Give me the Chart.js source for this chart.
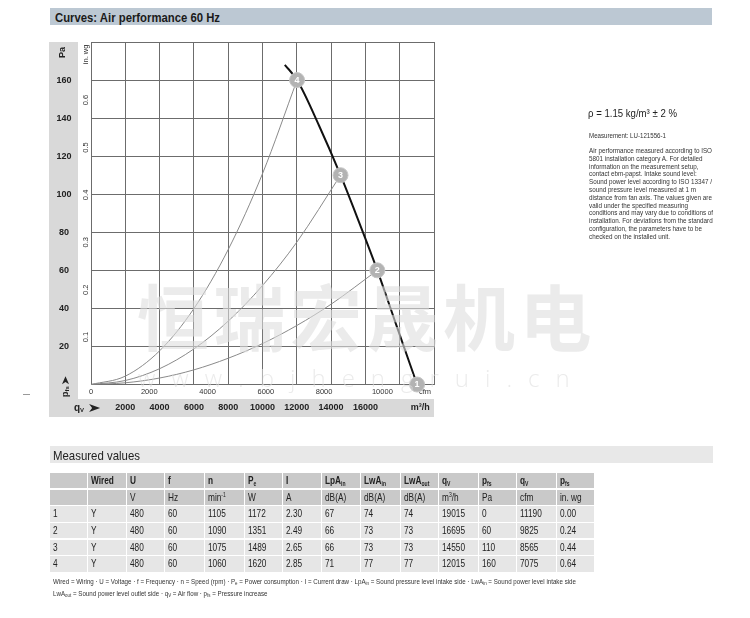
<!DOCTYPE html>
<html><head><meta charset="utf-8">
<script src="https://cdn.jsdelivr.net/npm/chart.js@4.4.1/dist/chart.umd.min.js"></script>
<style>
html,body{margin:0;padding:0;background:#fff;}
body{width:750px;height:618px;position:relative;overflow:hidden;font-family:"Liberation Sans",Arial,sans-serif;color:#222;}
.abs{position:absolute;white-space:nowrap;}
.fit{display:inline-block;white-space:nowrap;transform-origin:0 50%;}
#hdr{left:50px;top:8px;width:662px;height:17px;background:#bcc8d3;}
#hdr span{font-weight:bold;font-size:13px;line-height:17px;margin-left:5px;color:#1a1a1a;}
#mv{left:50px;top:446px;width:663px;height:17px;background:#e8e8e8;}
#mv span{font-size:13px;line-height:17px;margin-left:3px;color:#222;}
.cell{position:absolute;height:15.3px;line-height:15.3px;font-size:11.5px;white-space:nowrap;box-sizing:border-box;padding-left:3px;color:#222;}
.cell span{display:inline-block;transform:scaleX(0.72);transform-origin:0 50%;}
.cell sub{font-size:7px;vertical-align:-2px;line-height:0;}
.cell sup{font-size:7px;vertical-align:4px;line-height:0;}
.fn sub{font-size:5px;vertical-align:-1px;line-height:0;}
#rho{left:588px;top:107px;font-size:11px;line-height:13px;color:#222;}
#meas{left:589px;top:130.5px;font-size:7.5px;line-height:9px;color:#333;}
#para{left:589px;top:147.1px;font-size:7.2px;line-height:7.8px;color:#333;}
#para div{white-space:nowrap;transform-origin:0 50%;}
.fn{left:53px;font-size:7px;line-height:11.6px;color:#333;}
#wm{left:137px;top:278px;font-family:"Noto Sans CJK SC",sans-serif;font-weight:700;font-size:72px;line-height:1;letter-spacing:4.5px;color:rgba(222,222,222,0.6);pointer-events:none;z-index:5;}
#wm2{left:138px;top:363px;font-family:"Open Sans",sans-serif;font-weight:300;font-size:24px;line-height:30px;letter-spacing:16px;color:rgba(222,222,222,0.6);pointer-events:none;z-index:5;}
#dash{left:23px;top:394px;width:7px;height:1px;background:#999;}
</style>
</head>
<body>
<div id="hdr" class="abs"><span class="fit" data-w="165">Curves: Air performance 60 Hz</span></div>
<canvas id="c" width="750" height="430" style="position:absolute;left:0;top:0;width:750px;height:430px;"></canvas>
<div id="wm" class="abs">恒瑞宏晟机电</div>
<div id="wm2" class="abs">www.bjhengrui.cn</div>
<div id="dash" class="abs"></div>
<div id="rho" class="abs"><span class="fit" data-w="89">ρ = 1.15 kg/m³ ± 2 %</span></div>
<div id="meas" class="abs"><span class="fit" data-w="77">Measurement: LU-121556-1</span></div>
<div id="para" class="abs"></div>
<div id="mv" class="abs"><span class="fit" data-w="87">Measured values</span></div>
<div id="table"></div>
<div id="fn1" class="abs fn" style="top:575.9px;"><span class="fit" id="fnl1">Wired = Wiring · U = Voltage · f = Frequency · n = Speed (rpm) · P<sub>e</sub> = Power consumption · I = Current draw · LpA<sub>in</sub> = Sound pressure level intake side · LwA<sub>in</sub> = Sound power level intake side</span></div>
<div id="fn2" class="abs fn" style="top:587.5px;"><span class="fit" id="fnl2">LwA<sub>out</sub> = Sound power level outlet side · q<sub>V</sub> = Air flow · p<sub>fs</sub> = Pressure increase</span></div>
<script>
// ---------------- data ----------------
const opIds      = [1, 2, 3, 4];
const opFlowM3h  = [19015, 16695, 14550, 12015];
const opPressPa  = [0, 60, 110, 160];

const fanCurveFlow = [11300, 12015, 13300, 14550, 15600, 16695, 17850, 19015];
const fanCurvePa   = [168, 160, 136, 110, 86, 60, 30, 0];

const sys2Flow = [0, 2000, 4000, 6000, 8000, 10000, 12000, 14000, 16695];
const sys2Pa   = [0, 0.9, 3.4, 7.7, 13.8, 21.5, 31, 42.2, 60];
const sys3Flow = [0, 2000, 4000, 6000, 8000, 10000, 12000, 14550];
const sys3Pa   = [0, 2.1, 8.3, 18.7, 33.3, 52, 74.8, 110];
const sys4Flow = [0, 2000, 4000, 6000, 8000, 10000, 12015];
const sys4Pa   = [0, 4.4, 17.7, 39.9, 70.9, 110.8, 160];

const paTicks       = [0, 20, 40, 60, 80, 100, 120, 140, 160, 180];
const paTickLabels  = ['', '20', '40', '60', '80', '100', '120', '140', '160', ''];
const inwgTicks      = [0.1, 0.2, 0.3, 0.4, 0.5, 0.6];
const inwgTickLabels = ['0.1', '0.2', '0.3', '0.4', '0.5', '0.6'];
const m3hTicks      = [0, 2000, 4000, 6000, 8000, 10000, 12000, 14000, 16000, 18000, 19200, 20000];
const m3hTickLabels = ['', '2000', '4000', '6000', '8000', '10000', '12000', '14000', '16000', '', 'm³/h', ''];
const cfmTicks      = [0, 2000, 4000, 6000, 8000, 10000, 11460];
const cfmTickLabels = ['0', '2000', '4000', '6000', '8000', '10000', 'cfm'];

const wired    = ['Y', 'Y', 'Y', 'Y'];
const voltage  = [480, 480, 480, 480];
const freq     = [60, 60, 60, 60];
const speed    = [1105, 1090, 1075, 1060];
const power    = [1172, 1351, 1489, 1620];
const current  = ['2.30', '2.49', '2.65', '2.85'];
const lpaIn    = [67, 66, 66, 71];
const lwaIn    = [74, 73, 73, 77];
const lwaOut   = [74, 73, 73, 77];
const qvCfm    = [11190, 9825, 8565, 7075];
const pfsInwg  = ['0.00', '0.24', '0.44', '0.64'];
const head1 = ['', 'Wired', 'U', 'f', 'n', 'P<sub>e</sub>', 'I', 'LpA<sub>in</sub>', 'LwA<sub>in</sub>', 'LwA<sub>out</sub>', 'q<sub>V</sub>', 'p<sub>fs</sub>', 'q<sub>V</sub>', 'p<sub>fs</sub>'];
const head2 = ['', '', 'V', 'Hz', 'min<sup>-1</sup>', 'W', 'A', 'dB(A)', 'dB(A)', 'dB(A)', 'm<sup>3</sup>/h', 'Pa', 'cfm', 'in. wg'];

const noteLines = [
  'Air performance measured according to ISO',
  '5801 installation category A. For detailed',
  'information on the measurement setup,',
  'contact ebm-papst. Intake sound level:',
  'Sound power level according to ISO 13347 /',
  'sound pressure level measured at 1 m',
  'distance from fan axis. The values given are',
  'valid under the specified measuring',
  'conditions and may vary due to conditions of',
  'installation. For deviations from the standard',
  'configuration, the parameters have to be',
  'checked on the installed unit.'
];

const PA_PER_INWG = 249.089;
const M3H_PER_CFM = 1.699;

// ---------------- text fitting ----------------
function fit(el, target) {
  el.style.transform = 'none';
  const w = el.getBoundingClientRect().width;
  if (w > 0) el.style.transform = 'scaleX(' + (target / w) + ')';
  return target / w;
}
document.querySelectorAll('.fit[data-w]').forEach(el => fit(el, +el.dataset.w));

const para = document.getElementById('para');
noteLines.forEach(t => { const d = document.createElement('div'); d.textContent = t; d.style.display = 'block'; para.appendChild(d); });
{
  const first = para.firstChild;
  const sp = document.createElement('span'); sp.textContent = noteLines[0]; sp.style.display = 'inline-block';
  first.textContent = ''; first.appendChild(sp);
  const s = 123 / sp.getBoundingClientRect().width;
  first.textContent = noteLines[0];
  para.querySelectorAll('div').forEach(d => d.style.transform = 'scaleX(' + s + ')');
}
{
  const s = fit(document.getElementById('fnl1'), 523);
  document.getElementById('fnl2').style.transform = 'scaleX(' + s + ')';
}

// ---------------- table ----------------
const colLefts = [50, 88, 127, 165, 205, 245, 283, 322, 361, 401, 439, 479, 517, 557, 595];
const rowTops = [473, 489.7, 506.3, 523, 539.7, 556.3];
const rows = [head1, head2];
for (let i = 0; i < opIds.length; i++) {
  rows.push([String(opIds[i]), wired[i], voltage[i], freq[i], speed[i], power[i], current[i], lpaIn[i], lwaIn[i], lwaOut[i], opFlowM3h[i], opPressPa[i], qvCfm[i], pfsInwg[i]]);
}
const tbl = document.getElementById('table');
rows.forEach((row, r) => {
  row.forEach((v, c) => {
    const d = document.createElement('div');
    d.className = 'cell';
    d.style.left = colLefts[c] + 'px';
    d.style.top = rowTops[r] + 'px';
    d.style.width = (colLefts[c + 1] - colLefts[c] - 1.5) + 'px';
    d.style.background = r < 2 ? '#c9c9c9' : '#e6e6e6';
    if (r === 0) d.style.fontWeight = 'bold';
    d.innerHTML = '<span>' + v + '</span>';
    tbl.appendChild(d);
  });
});

// ---------------- chart ----------------
const GRID = '#6c6c6c';
const BAND = '#d9d9d9';
const TXT = '#222';
const FONT = '"Liberation Sans", Arial, sans-serif';

const decorPlugin = {
  id: 'decor',
  beforeDraw(chart) {
    const c = chart.ctx, a = chart.chartArea, ys = chart.scales.y, xs = chart.scales.x;
    c.save();
    c.fillStyle = BAND;
    c.fillRect(ys.left, a.top, ys.right - ys.left, xs.bottom - a.top);
    c.fillRect(ys.left, xs.top, a.right - ys.left, xs.bottom - xs.top);
    c.restore();
  },
  afterDraw(chart) {
    const c = chart.ctx, ys = chart.scales.y, xs = chart.scales.x;
    c.save();
    c.fillStyle = TXT;
    // Pa unit
    c.save();
    c.translate((ys.left + ys.right) / 2 - 0.5, ys.getPixelForValue(174.5));
    c.rotate(-Math.PI / 2);
    c.font = 'bold 9px ' + FONT; c.textAlign = 'center'; c.textBaseline = 'middle';
    c.fillText('Pa', 0, 0);
    c.restore();
    // in. wg unit
    c.save();
    c.translate(85.5, ys.getPixelForValue(173.5));
    c.rotate(-Math.PI / 2);
    c.font = '7.5px ' + FONT; c.textAlign = 'center'; c.textBaseline = 'middle';
    c.fillStyle = '#333';
    c.fillText('in. wg', 0, 0);
    c.restore();
    // p_fs arrow (rotated)
    c.save();
    c.translate(65.5, 397);
    c.rotate(-Math.PI / 2);
    c.textAlign = 'left'; c.textBaseline = 'middle';
    c.font = 'bold 9px ' + FONT;
    c.fillText('p', 0, 0);
    let w = c.measureText('p').width;
    c.font = 'bold 6px ' + FONT;
    c.fillText('fs', w, 2);
    w += c.measureText('fs').width + 2;
    c.beginPath();
    c.moveTo(w, -3.5); c.lineTo(w + 8, 0); c.lineTo(w, 3.5); c.lineTo(w + 2.2, 0); c.closePath();
    c.fill();
    c.restore();
    // q_V arrow
    c.save();
    c.translate(74, xs.top + 9);
    c.textAlign = 'left'; c.textBaseline = 'middle';
    c.font = 'bold 10px ' + FONT;
    c.fillText('q', 0, 0);
    w = c.measureText('q').width;
    c.font = 'bold 6px ' + FONT;
    c.fillText('V', w, 2);
    w += c.measureText('V').width + 5;
    c.beginPath();
    c.moveTo(w, -4); c.lineTo(w + 11, 0); c.lineTo(w, 4); c.lineTo(w + 3, 0); c.closePath();
    c.fill();
    c.restore();
    c.restore();
  },
  afterDatasetsDraw(chart) {
    const c = chart.ctx;
    const meta = chart.getDatasetMeta(4);
    c.save();
    c.fillStyle = '#fff';
    c.font = 'bold 9px ' + FONT; c.textAlign = 'center'; c.textBaseline = 'middle';
    meta.data.forEach((p, i) => c.fillText(String(opIds[i]), p.x, p.y + 0.5));
    c.restore();
  }
};

const toXY = (xs, ys) => xs.map((x, i) => ({ x: x, y: ys[i] }));
const sysStyle = { showLine: true, borderColor: '#8a8a8a', borderWidth: 1, pointRadius: 0, cubicInterpolationMode: 'monotone', fill: false, order: 3 };

new Chart(document.getElementById('c'), {
  type: 'scatter',
  data: {
    datasets: [
      Object.assign({ label: 'System 2', data: toXY(sys2Flow, sys2Pa) }, sysStyle),
      Object.assign({ label: 'System 3', data: toXY(sys3Flow, sys3Pa) }, sysStyle),
      Object.assign({ label: 'System 4', data: toXY(sys4Flow, sys4Pa) }, sysStyle),
      { label: 'Fan curve', data: toXY(fanCurveFlow, fanCurvePa), showLine: true, borderColor: '#111', borderWidth: 2, pointRadius: 0, cubicInterpolationMode: 'monotone', order: 2 },
      { label: 'Operating points', data: toXY(opFlowM3h, opPressPa), showLine: false, pointRadius: 7.5, backgroundColor: '#b3b3b3', borderColor: '#c6c6c6', borderWidth: 1, clip: false, order: 1 }
    ]
  },
  options: {
    responsive: false, animation: false, devicePixelRatio: 1,
    layout: { padding: { left: 49, top: 42, right: 316, bottom: 13 } },
    plugins: { legend: { display: false }, tooltip: { enabled: false } },
    scales: {
      x: {
        type: 'linear', position: 'bottom', weight: 1, min: 0, max: 20000,
        afterBuildTicks: s => { s.ticks = m3hTicks.map(v => ({ value: v })); },
        afterFit: s => { s.height = 18; },
        border: { display: false },
        grid: { drawTicks: false, lineWidth: 1, color: ctx => (m3hTickLabels[ctx.index] === 'm³/h' ? 'rgba(0,0,0,0)' : GRID) },
        ticks: { autoSkip: false, maxRotation: 0, padding: 3.6, color: TXT, font: { family: FONT, size: 9, weight: 'bold' }, callback: (v, i) => m3hTickLabels[i] }
      },
      xc: {
        type: 'linear', position: 'bottom', weight: 0, min: 0, max: 20000 / M3H_PER_CFM,
        afterBuildTicks: s => { s.ticks = cfmTicks.map(v => ({ value: v })); },
        afterFit: s => { s.height = 14.5; },
        border: { display: false },
        grid: { display: false, drawTicks: false },
        ticks: { autoSkip: false, maxRotation: 0, padding: 2.5, color: '#333', font: { family: FONT, size: 7.5 }, callback: (v, i) => cfmTickLabels[i] }
      },
      y: {
        type: 'linear', position: 'left', weight: 1, min: 0, max: 180,
        afterBuildTicks: s => { s.ticks = paTicks.map(v => ({ value: v })); },
        afterFit: s => { s.width = 29; },
        border: { display: false },
        grid: { drawTicks: false, lineWidth: 1, color: GRID },
        ticks: { autoSkip: false, crossAlign: 'center', padding: 6.5, color: TXT, font: { family: FONT, size: 9, weight: 'bold' }, callback: (v, i) => paTickLabels[i] }
      },
      yw: {
        type: 'linear', position: 'left', weight: 0, min: 0, max: 180 / PA_PER_INWG,
        afterBuildTicks: s => { s.ticks = inwgTicks.map(v => ({ value: v })); },
        afterFit: s => { s.width = 13; },
        border: { display: false },
        grid: { display: false, drawTicks: false },
        ticks: { autoSkip: false, crossAlign: 'center', minRotation: 90, maxRotation: 90, padding: -0.5, color: '#333', font: { family: FONT, size: 7.5 }, callback: (v, i) => inwgTickLabels[i] }
      }
    }
  },
  plugins: [decorPlugin]
});
</script>
</body></html>
